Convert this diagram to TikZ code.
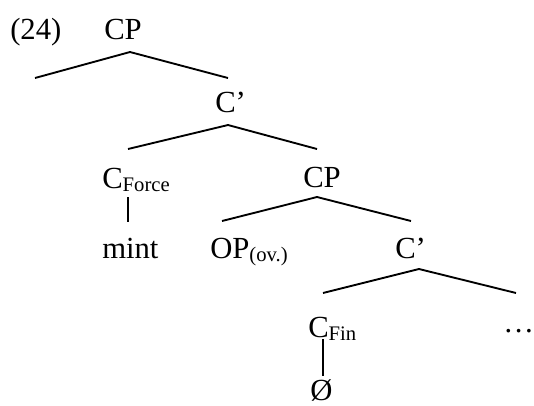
\documentclass[tikz,border=0pt]{standalone}
\usepackage{fontspec}
\setmainfont{Liberation Serif}
\newcommand\lowsub[1]{\raisebox{-2.3pt}{\fontsize{15.5}{18}\selectfont #1}}

\begin{document}
\begin{tikzpicture}[x=0.75pt,y=-0.75pt,
    lbl/.style={anchor=base west,inner sep=0pt,font=\fontsize{23}{27}\selectfont},
    edge/.style={line width=1.4pt}]

    \useasboundingbox (0,0) rectangle (534,405);

    % labels
    \node[lbl] (ex) at (10,39) {(24)};
    \node[lbl] (cp) at (104,39) {CP};
    \node[lbl] (cbar) at (215,112) {C’};
    \node[lbl] (cforce) at (102,188) {C\lowsub{Force}};
    \node[lbl] (cplow) at (303,187) {CP};
    \node[lbl] (mint) at (102,258) {mint};
    \node[lbl] (op) at (210,258) {OP\lowsub{(ov.)}};
    \node[lbl] (cbarlow) at (395,258) {C’};
    \node[lbl] (cfin) at (308,337) {C\lowsub{Fin}};
    \node[lbl] (dots) at (503,332) {\dots};
    \node[lbl] (zero) at (310,400) {Ø};

    % branch points
    \coordinate (cp-top) at (130,52);
    \coordinate (cp-left) at (35,78);
    \coordinate (cp-right) at (228,78);
    \coordinate (cbar-top) at (228,125);
    \coordinate (cbar-left) at (128,149);
    \coordinate (cbar-right) at (317,149);
    \coordinate (cforce-bot) at (128,197);
    \coordinate (mint-top) at (128,222);
    \coordinate (cplow-top) at (317,197);
    \coordinate (cplow-left) at (222,221);
    \coordinate (cplow-right) at (411,221);
    \coordinate (cbarlow-top) at (419,269);
    \coordinate (cbarlow-left) at (323,293);
    \coordinate (cbarlow-right) at (516,293);
    \coordinate (cfin-bot) at (323,339);
    \coordinate (zero-top) at (323,376);

    \draw[edge] (cp-left) -- (cp-top) -- (cp-right);
    \draw[edge] (cbar-left) -- (cbar-top) -- (cbar-right);
    \draw[edge] (cforce-bot) -- (mint-top);
    \draw[edge] (cplow-left) -- (cplow-top) -- (cplow-right);
    \draw[edge] (cbarlow-left) -- (cbarlow-top) -- (cbarlow-right);
    \draw[edge] (cfin-bot) -- (zero-top);

\end{tikzpicture}
\end{document}
